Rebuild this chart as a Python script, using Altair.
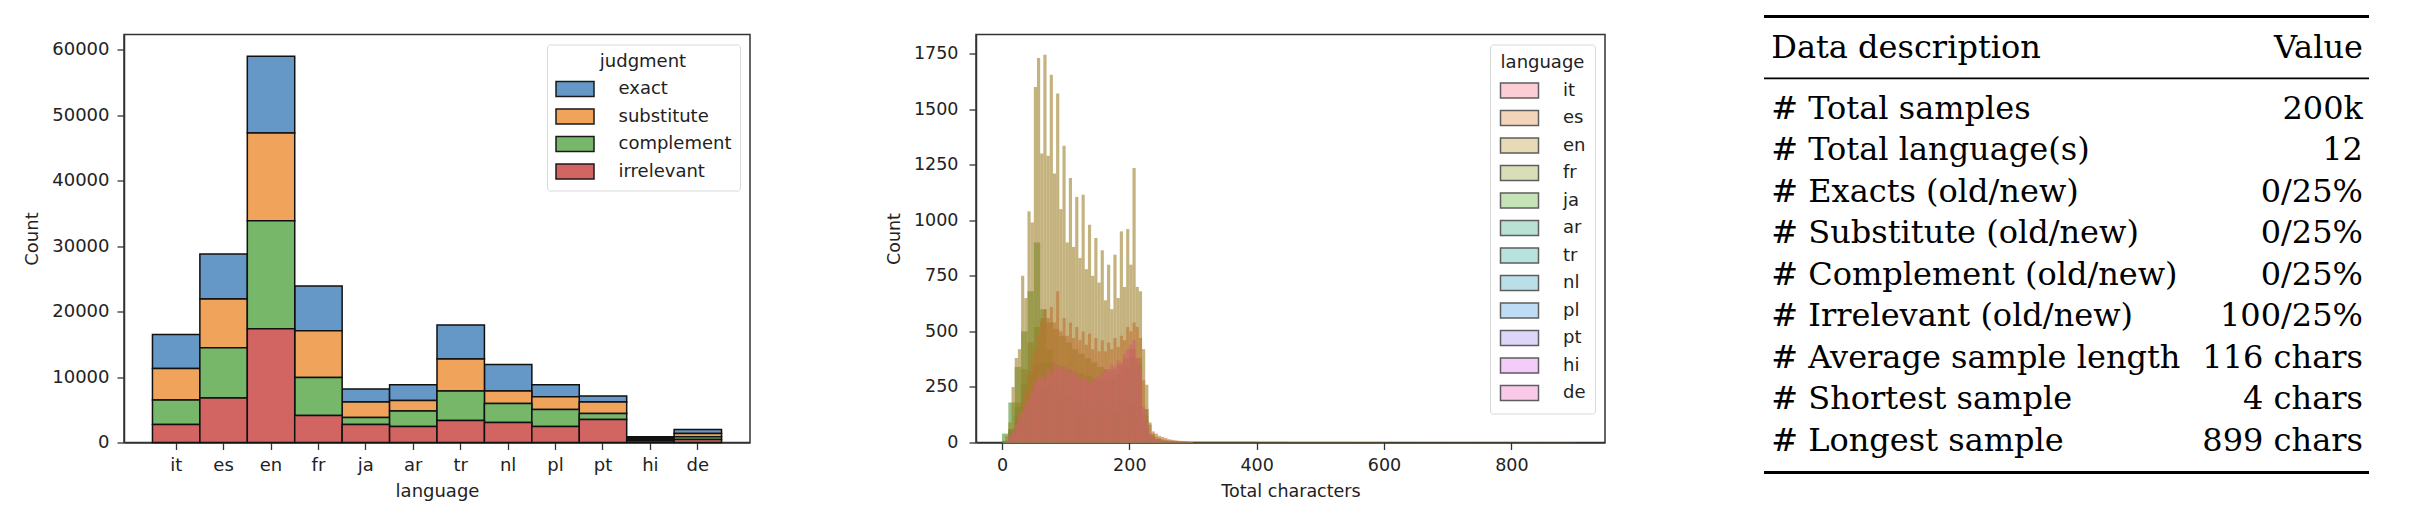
import altair as alt
import pandas as pd

# ---------------- Panel 1: stacked counts per language ----------------
languages = ["it", "es", "en", "fr", "ja", "ar", "tr", "nl", "pl", "pt", "hi", "de"]
judgments = ["exact", "substitute", "complement", "irrelevant"]
exact_counts = [5200, 6870, 11720, 6830, 1980, 2400, 5200, 4070, 1830, 910, 220, 610]
substitute_counts = [4820, 7450, 13400, 7140, 2360, 1620, 4890, 1900, 1940, 1750, 200, 510]
complement_counts = [3730, 7690, 16510, 5810, 1070, 2350, 4500, 2900, 2600, 910, 200, 410]
irrelevant_counts = [2750, 6790, 17390, 4130, 2750, 2450, 3360, 3060, 2450, 3520, 250, 460]
judgment_colors = ["#6598c6", "#f0a35b", "#77b76a", "#d26561"]

# ---------------- Panel 2: length histograms per language ----------------
fine_width = 5     # chars per bin for it / es / en
coarse_width = 10  # chars per bin for the other languages
en_counts = [0, 30, 90, 250, 380, 420, 750, 650, 1040, 990, 1600, 1730, 1300, 1745, 1290, 1655,
             1210, 1570, 1050, 1335, 900, 1190, 880, 1105, 830, 1115, 780, 980, 750, 920, 720, 865,
             640, 800, 600, 845, 650, 950, 700, 960, 800, 1235, 700, 680, 420, 260, 90, 40, 25, 20,
             15, 12, 10, 8, 7, 6, 5, 5, 4, 4]
es_counts = [0, 5, 15, 40, 80, 130, 180, 240, 300, 360, 420, 480, 540, 600, 560, 610, 540, 680,
             500, 560, 480, 540, 470, 520, 460, 500, 440, 490, 420, 470, 410, 460, 410, 450, 420,
             470, 430, 480, 460, 520, 500, 540, 520, 470, 280, 150, 80, 50, 40, 30, 25, 20, 15, 12,
             10, 8, 7, 6, 5, 4]
it_counts = [0, 10, 30, 50, 80, 110, 140, 170, 200, 230, 270, 290, 300, 280, 330, 310, 360, 340,
             350, 320, 340, 310, 320, 290, 300, 280, 290, 270, 280, 290, 300, 310, 330, 320, 350,
             340, 370, 360, 400, 420, 440, 460, 380, 330, 160, 90, 40, 25, 15, 10, 8, 6, 5, 4, 3,
             3, 2, 2, 2, 1]
fr_counts = [5, 60, 180, 330, 450, 520, 560, 540, 510, 480, 450, 420, 400, 380, 360, 340, 330,
             330, 350, 380, 420, 380, 120, 30, 15, 8, 5, 4, 3, 2]
ja_counts = [40, 180, 340, 500, 680, 900, 600, 420, 330, 270, 220, 180, 150, 130, 110, 100, 90,
             80, 70, 70, 65, 55, 20, 6, 3, 2, 1, 1, 1, 1]
ar_counts = [5, 50, 120, 170, 190, 200, 190, 180, 170, 160, 150, 140, 130, 130, 120, 120, 120,
             130, 140, 150, 170, 150, 60, 15, 6, 3, 2, 1, 1, 1]
tr_counts = [5, 60, 160, 260, 320, 350, 360, 360, 350, 340, 330, 320, 310, 300, 290, 280, 280,
             290, 310, 340, 380, 350, 150, 35, 15, 8, 5, 3, 2, 2]
nl_counts = [3, 40, 110, 170, 210, 230, 240, 240, 230, 220, 210, 200, 200, 190, 190, 190, 190,
             200, 210, 230, 260, 240, 100, 25, 10, 5, 3, 2, 1, 1]
pl_counts = [2, 30, 90, 140, 170, 180, 185, 180, 175, 165, 160, 150, 145, 140, 135, 130, 130,
             135, 145, 160, 180, 160, 70, 15, 6, 3, 2, 1, 1, 1]
pt_counts = [2, 25, 70, 110, 130, 140, 145, 145, 140, 135, 130, 125, 120, 115, 110, 110, 110,
             115, 125, 140, 160, 140, 60, 12, 5, 3, 2, 1, 1, 1]
hi_counts = [0, 3, 8, 14, 18, 20, 21, 21, 20, 20, 19, 18, 18, 17, 17, 16, 16, 17, 18, 19, 22,
             20, 8, 2, 1, 1, 0, 0, 0, 0]
de_counts = [0, 5, 15, 25, 35, 40, 45, 45, 45, 45, 40, 40, 40, 38, 38, 36, 36, 38, 40, 42, 48,
             44, 18, 5, 2, 1, 1, 0, 0, 0]
tail_start = 300
tail_width = 50
en_tail_counts = [5, 4, 3, 2, 2, 2, 1, 1, 1, 1, 1, 1]
# base hue per language (seaborn husl-like)
language_rgb = [(247, 113, 137), (224, 135, 58), (187, 152, 50), (151, 164, 49),
                (95, 176, 53), (58, 175, 136), (54, 173, 164), (58, 169, 191),
                (71, 160, 230), (163, 140, 240), (224, 112, 240), (240, 108, 189)]
bar_colors = ["rgba(%d,%d,%d,0.6)" % tuple(int(c * 0.85) for c in rgb) for rgb in language_rgb]
legend_colors = ["rgba(%d,%d,%d,0.5)" % rgb for rgb in language_rgb]

# ---------------- Panel 3: table ----------------
table_header = ["Data description", "Value"]
table_labels = ["# Total samples", "# Total language(s)", "# Exacts (old/new)",
                "# Substitute (old/new)", "# Complement (old/new)", "# Irrelevant (old/new)",
                "# Average sample length", "# Shortest sample", "# Longest sample"]
table_values = ["200k", "12", "0/25%", "0/25%", "0/25%", "100/25%", "116 chars",
                "4 chars", "899 chars"]

FONT = "DejaVu Sans"
INK = "#222222"
FRAME = "#333333"
PANEL_H = 408

# ----- build panel 1 -----
rows = []
for j, vals in zip(judgments, [exact_counts, substitute_counts, complement_counts, irrelevant_counts]):
    for lang, v in zip(languages, vals):
        rows.append({"language": lang, "judgment": j, "count": v,
                     "rank": len(judgments) - 1 - judgments.index(j)})
bar_df = pd.DataFrame(rows)

legend_common = dict(
    orient="top-right", offset=10, fillColor="white", strokeColor="#d9d9d9",
    cornerRadius=3, symbolType="M-2,-0.8H2V0.8H-2Z", symbolSize=361,
    symbolOffset=9.5, labelOffset=33, symbolStrokeColor="#1a1a1a",
    symbolStrokeWidth=1.5, rowPadding=4.5, titleAnchor="middle", titlePadding=8,
    labelFontSize=18, titleFontSize=18, labelFont=FONT, titleFont=FONT,
    titleFontWeight="normal", labelColor=INK, titleColor=INK, labelLimit=300,
)

left = alt.Chart(bar_df).mark_bar(stroke="#111111", strokeWidth=1.5).encode(
    x=alt.X("language:N", sort=languages,
            scale=alt.Scale(paddingInner=0, paddingOuter=0.6),
            axis=alt.Axis(title="language", labelAngle=0, labelPadding=7, titlePadding=8)),
    y=alt.Y("count:Q", stack="zero",
            scale=alt.Scale(domain=[0, 62340], nice=False),
            axis=alt.Axis(title="Count", values=list(range(0, 60001, 10000)), format="d",
                          labelPadding=8, titlePadding=10)),
    color=alt.Color("judgment:N",
                    scale=alt.Scale(domain=judgments, range=judgment_colors),
                    legend=alt.Legend(title="judgment", padding=8, **legend_common)),
    order=alt.Order("rank:Q", sort="ascending"),
).properties(width=626, height=PANEL_H,
             view=alt.ViewBackground(stroke=FRAME, strokeWidth=1.5, strokeOpacity=1))

# ----- build panel 2 -----
fine = {"it": it_counts, "es": es_counts, "en": en_counts}
coarse = {"fr": fr_counts, "ja": ja_counts, "ar": ar_counts, "tr": tr_counts,
          "nl": nl_counts, "pl": pl_counts, "pt": pt_counts, "hi": hi_counts, "de": de_counts}
hrows = []
for lang in reversed(languages):  # first language drawn last (on top)
    if lang in fine:
        w, vals = fine_width, fine[lang]
    else:
        w, vals = coarse_width, coarse[lang]
    for i, v in enumerate(vals):
        hrows.append({"lang": lang, "start": i * w, "end": (i + 1) * w, "count": v})
    if lang == "en":
        for i, v in enumerate(en_tail_counts):
            hrows.append({"lang": lang, "start": tail_start + i * tail_width,
                          "end": tail_start + (i + 1) * tail_width, "count": v})
hist_df = pd.DataFrame(hrows)
legend_df = pd.DataFrame({"language": languages})

X_DOMAIN = [-40.8, 947.1]
hx = alt.X("start:Q", scale=alt.Scale(domain=X_DOMAIN, nice=False, zero=False),
           axis=alt.Axis(title="Total characters", values=[0, 200, 400, 600, 800],
                         labelPadding=7, titlePadding=8, labelFontSize=17.5, titleFontSize=17.5))
hy = alt.Y("count:Q", scale=alt.Scale(domain=[0, 1835.7], nice=False),
           axis=alt.Axis(title="Count", values=list(range(0, 1751, 250)), format="d",
                         labelPadding=11, titlePadding=10, labelFontSize=17.5, titleFontSize=17.5))

hist_bars = alt.Chart(hist_df).mark_rect().encode(
    x=hx, x2="end:Q", y=hy, y2=alt.datum(0),
    fill=alt.Fill("lang:N", scale=alt.Scale(domain=languages, range=bar_colors), legend=None),
)
# legend-only layer: its marks sit outside the clipped plot area, so only the key shows
hist_legend = alt.Chart(legend_df).mark_square(clip=True, filled=True).encode(
    x=alt.datum(X_DOMAIN[0] - 500),
    y=alt.datum(0),
    color=alt.Color("language:N", scale=alt.Scale(domain=languages, range=legend_colors),
                    legend=alt.Legend(title="language", padding=9.5, **legend_common)),
)
mid = alt.layer(hist_bars, hist_legend).resolve_scale(color="independent", fill="independent").properties(
    width=629, height=PANEL_H,
    view=alt.ViewBackground(stroke=FRAME, strokeWidth=1.5, strokeOpacity=1))

# ----- build panel 3 (table) -----
# layout in "row units": top rule at 0, header, mid rule, nine body rows, bottom rule
ROW_PX = 41.5
TABLE_W = 605          # full rule length
TABLE_LEFT_SHIFT = 67  # rules start this far left of the panel's plot area
TABLE_TOP_SHIFT = 18   # top rule sits this far above the panel's plot area
ROW0 = 2.22
HEADER_POS = 0.77
rule_pos = [0.0, 1.49, 10.99]
rule_w = [3.0, 1.8, 3.0]
text_rows = [{"label": table_header[0], "value": table_header[1], "pos": HEADER_POS}]
for i, (lab, val) in enumerate(zip(table_labels, table_values)):
    text_rows.append({"label": lab, "value": val, "pos": ROW0 + i})
text_df = pd.DataFrame(text_rows)
rule_df = pd.DataFrame({"pos": rule_pos, "w": rule_w, "x0": [0.0] * 3, "x1": [1.0] * 3})

panel3_w = TABLE_W - TABLE_LEFT_SHIFT
y_lo = TABLE_TOP_SHIFT / ROW_PX
y_hi = (PANEL_H + TABLE_TOP_SHIFT) / ROW_PX
yscale = alt.Scale(domain=[y_lo, y_hi], reverse=True, nice=False, zero=False)
xscale = alt.Scale(domain=[TABLE_LEFT_SHIFT / TABLE_W, 1], nice=False, zero=False)

rules = alt.Chart(rule_df).mark_rule(color="black").encode(
    x=alt.X("x0:Q", scale=xscale, axis=None),
    x2="x1:Q",
    y=alt.Y("pos:Q", scale=yscale, axis=None),
    strokeWidth=alt.StrokeWidth("w:Q", scale=None),
)
left_text = alt.Chart(text_df).mark_text(
    align="left", baseline="middle", font="DejaVu Serif", fontSize=32, color="black"
).encode(
    x=alt.datum(0.012, scale=xscale),
    y=alt.Y("pos:Q", scale=yscale, axis=None),
    text="label:N",
)
right_text = alt.Chart(text_df).mark_text(
    align="right", baseline="middle", font="DejaVu Serif", fontSize=32, color="black"
).encode(
    x=alt.datum(0.99, scale=xscale),
    y=alt.Y("pos:Q", scale=yscale, axis=None),
    text="value:N",
)
table = alt.layer(rules, left_text, right_text).properties(
    width=panel3_w, height=PANEL_H,
    view=alt.ViewBackground(strokeOpacity=0))

chart = alt.hconcat(left, mid, table, spacing=226, bounds="flush").resolve_scale(
    x="independent", y="independent", color="independent", fill="independent"
).resolve_legend(color="independent", fill="independent").properties(
    padding={"left": 14, "top": 6.5, "right": 5, "bottom": 5}
).configure_view(
    strokeOpacity=0
).configure_axis(
    labelFont=FONT, titleFont=FONT, labelFontSize=18, titleFontSize=18,
    labelColor=INK, titleColor=INK, titleFontWeight="normal",
    domainColor=FRAME, domainWidth=1.5, tickColor=FRAME, tickWidth=1.3, tickSize=7,
    grid=False,
)

chart.save("out.html", embed_options={"renderer": "svg", "actions": False})
